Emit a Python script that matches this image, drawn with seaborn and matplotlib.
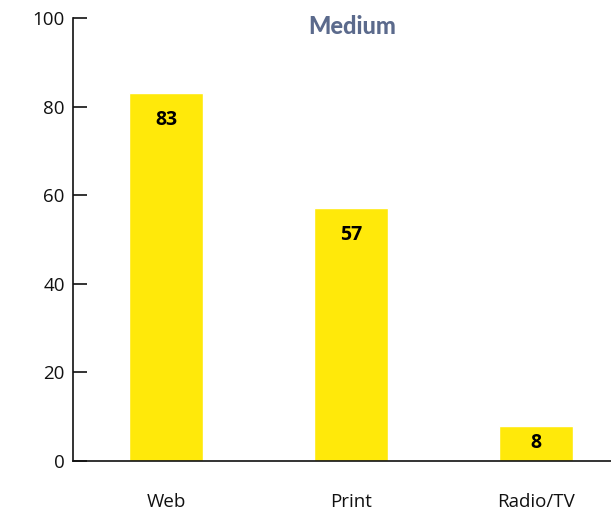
import matplotlib
matplotlib.use("Agg")
import matplotlib.pyplot as plt
import seaborn as sns
import pandas as pd

categories = ["Web", "Print", "Radio/TV"]
values = [83, 57, 8]
title = "Medium"
yticks = [0, 20, 40, 60, 80, 100]

sns.set_theme(style="white")
plt.rcParams['font.family'] = ['Open Sans', 'DejaVu Sans']

df = pd.DataFrame({"cat": categories, "val": values})

fig = plt.figure(figsize=(6.11, 5.13), dpi=100)
ax = fig.add_axes([73/611, 1-461/513, 1-73/611, (461-18)/513])

sns.barplot(data=df, x="cat", y="val", color="#FFE90A", saturation=1, width=0.4, ax=ax)

ax.set_xlim(-0.503, 2.405)
ax.set_ylim(0, 100)
ax.set_yticks(yticks)
ax.set_xlabel("")
ax.set_ylabel("")
for s in ["top", "right"]:
    ax.spines[s].set_visible(False)
for s in ["left", "bottom"]:
    ax.spines[s].set_color("#111111")
    ax.spines[s].set_linewidth(1.2)

ax.tick_params(axis="y", left=True, direction="in", length=10, width=1.2, color="#111111",
               labelsize=13.5, labelcolor="#111111", pad=6)
ax.tick_params(axis="x", bottom=False, length=0, labelsize=13.5, labelcolor="#111111", pad=23)

for i, v in enumerate(values):
    ax.text(i, max(v - 6, v / 2), str(v), ha="center", va="center",
            fontsize=14, fontweight="bold", color="#000000")

fig.text(352/611, 1-26/513, title, ha="center", va="center", fontsize=17,
         fontweight="black", color="#5B6A8C", family=["Lato", "DejaVu Sans"])

fig.savefig("out.png", dpi=100)
